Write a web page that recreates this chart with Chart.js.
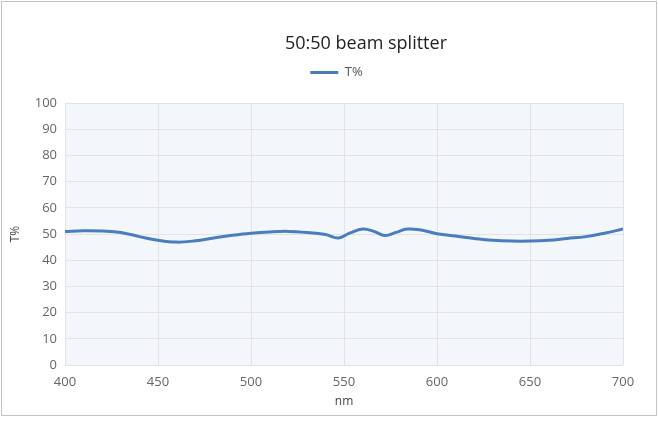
<!DOCTYPE html>
<html>
<head>
<meta charset="utf-8">
<script src="https://cdn.jsdelivr.net/npm/chart.js@4/dist/chart.umd.min.js"></script>
<style>
  body { margin: 0; background: #fff; }
  .box { position: absolute; left: 1px; top: 1px; width: 654px; height: 413px; border: 1px solid #c4c4c4; }
</style>
</head>
<body>
<div class="box"><canvas id="myChart" width="654" height="413"></canvas></div>
<script>
// values
const wavelengths = [400, 410, 420, 430, 440, 450, 460, 470, 480, 490, 500, 510, 520, 530, 540, 547, 553, 560, 566, 572, 578, 584, 592, 600, 610, 620, 630, 640, 650, 660, 670, 680, 690, 700] ;
const transmission = [51.0, 51.2, 51.1, 50.6, 49.0, 47.6, 46.9, 47.4, 48.5, 49.5, 50.3, 50.8, 51.0, 50.6, 49.8, 48.5, 50.3, 51.9, 51.0, 49.4, 50.6, 51.9, 51.4, 50.1, 49.2, 48.3, 47.6, 47.3, 47.3, 47.6, 48.3, 49.0, 50.3, 51.9] ;
const chartTitle = "50:50 beam splitter" ;
const seriesName = "T%" ;
const xTitle = "nm" ;
const yTitle = "T%" ;

const points = wavelengths.map((w, i) => ({x: w, y: transmission[i]})) ;

const FONT = "'Open Sans', 'Noto Sans', sans-serif" ;

// light plot background, title a bit right of centre, legend nudged like the reference
const decor = {
    id: 'decor',
    afterInit(chart) {
        const fit = chart.legend.fit ;
        chart.legend.fit = function() {
            fit.bind(chart.legend)() ;
            this.height += 14 ;
        } ;
    },
    afterLayout(chart) {
        chart.legend.left += 24 ;
        chart.legend.right += 24 ;
    },
    beforeDraw(chart) {
        const {ctx, chartArea} = chart ;
        ctx.save() ;
        ctx.fillStyle = '#f3f7fb' ;
        ctx.fillRect(chartArea.left, chartArea.top, chartArea.right - chartArea.left, chartArea.bottom - chartArea.top) ;
        ctx.restore() ;
    },
    afterDraw(chart) {
        const ctx = chart.ctx ;
        ctx.save() ;
        ctx.font = "18px " + FONT ;
        ctx.fillStyle = '#222' ;
        ctx.textAlign = 'center' ;
        ctx.textBaseline = 'middle' ;
        ctx.fillText(chartTitle, 364, 42) ;
        ctx.restore() ;
    }
} ;

const ctx = document.getElementById('myChart') ;
const myChart = new Chart(ctx, {
    type: 'line',
    data: {
        datasets: [{
            label: seriesName,
            data: points,
            borderColor: '#4a7cbf',
            backgroundColor: '#4a7cbf',
            borderWidth: 3,
            pointRadius: 0,
            tension: 0.4,
            fill: false
        }]
    },
    options: {
        responsive: false,
        animation: false,
        layout: { padding: { top: 39, right: 33, left: 0, bottom: 0 } },
        plugins: {
            legend: {
                position: 'top',
                labels: {
                    usePointStyle: true,
                    pointStyle: 'line',
                    pointStyleWidth: 28,
                    padding: 25,
                    color: '#555',
                    font: { family: FONT, size: 13 }
                }
            },
            tooltip: { enabled: false }
        },
        scales: {
            x: {
                type: 'linear',
                min: 400,
                max: 700,
                ticks: { stepSize: 50, padding: 9, color: '#666', font: { family: FONT, size: 13 } },
                grid: { color: '#e3e3e3', drawTicks: false },
                border: { display: false },
                title: { display: true, text: xTitle, color: '#444', padding: { top: 6, bottom: 6 }, font: { family: FONT, size: 12 } },
                afterFit(s) { s.height = 50 ; }
            },
            y: {
                min: 0,
                max: 100,
                ticks: { stepSize: 10, padding: 8, color: '#666', font: { family: FONT, size: 13 } },
                grid: { color: '#e3e3e3', drawTicks: false },
                border: { display: false },
                title: { display: true, text: yTitle, color: '#444', padding: 6, font: { family: FONT, size: 12 } },
                afterFit(s) { s.width = 63 ; }
            }
        }
    },
    plugins: [decor]
}) ;
</script>
</body>
</html>
